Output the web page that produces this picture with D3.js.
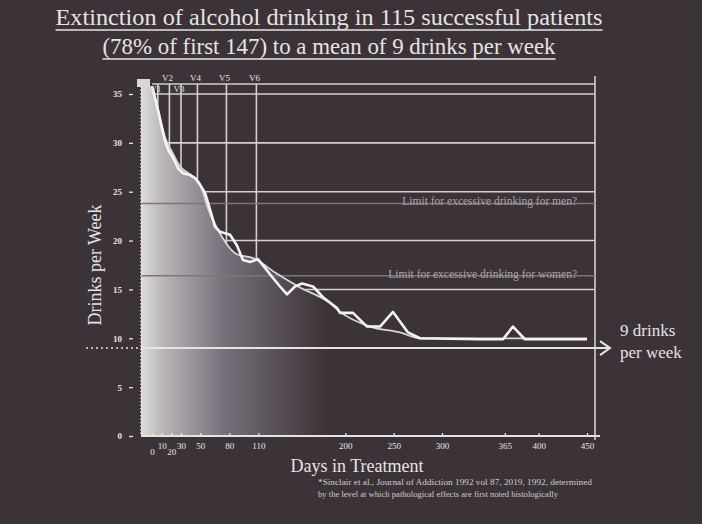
<!DOCTYPE html>
<html><head><meta charset="utf-8">
<script src="https://cdn.jsdelivr.net/npm/d3@7"></script>
<style>html,body{margin:0;padding:0;background:#3c3338;}svg{display:block;}</style>
</head><body>
<script>
// ---- data ----
const titleLines = ["Extinction of alcohol drinking in 115 successful patients","(78% of first 147) to a mean of 9 drinks per week"];
const obsDays   = [0,3.1,6.2,10.3,13.4,16.6,21.7,26.9,32.1,39.3,44.5,49.7,54.8,57.9,65.2,70.3,80.7,87.9,94.1,101.4,109.6,116.9,124.1,132.4,139.7,147.9,155.2,166.6,176.9,191.4,194.5,207.9,222.4,235.9,249.3,264.8,277.2,339.3,363.1,373.4,385.8,450];
const obsDrinks = [35.8,34.6,33.3,31.5,30.2,29.3,28.5,27.4,26.9,26.7,26.4,25.7,24.9,23.9,21.4,20.9,20.6,19.5,18.0,17.8,18.1,17.2,16.3,15.3,14.5,15.3,15.6,15.3,14.2,13.1,12.6,12.6,11.2,11.2,12.7,10.6,10.0,9.9,9.9,11.2,9.9,9.9];
const fitDays   = [0,6.2,13.4,21.7,28.9,36.2,49.7,57.9,67.2,87.9,104.5,129.3,153.1,184.1,194.5,225.5,256.6,277.2,450];
const fitDrinks = [35.8,33.5,30.6,28.9,27.6,27.0,25.8,23.3,21.3,18.6,18.2,16.6,15.2,13.6,12.7,11.2,10.6,10.0,10.0];
const visitNames = ["V1","V2","V3","V4","V5","V6"];
const visitDays  = [6,18,30,47,77,108];
const xTicks = [0,10,20,30,50,80,110,200,250,300,365,400,450];
const yTicks = [0,5,10,15,20,25,30,35];
const gridValues = [35,30,25,20,15];
const limitValues = [23.8,16.4];
const limitLabels = ["Limit for excessive drinking for men?","Limit for excessive drinking for women?"];
const targetValue = 9;
const footnote = ["*Sinclair et al., Journal of Addiction 1992 vol 87, 2019, 1992, determined","by the level at which pathological effects are first noted histologically"];

// ---- layout ----
const W=702,H=524,bg="#3c3338",fg="#e6e3e4",grid="#d2d0d1";
const serif="'Liberation Serif','Times New Roman',serif";
const svg=d3.select("body").append("svg").attr("width",W).attr("height",H);
svg.append("rect").attr("width",W).attr("height",H).attr("fill",bg);

const x=d3.scaleLinear().domain([0,450]).range([152,587]);
const y=d3.scaleLinear().domain([0,35]).range([436,94]);
const axisX=141, rightX=595, topY=84;

const defs=svg.append("defs");
const g=defs.append("linearGradient").attr("id","fade").attr("gradientUnits","userSpaceOnUse")
  .attr("x1",axisX).attr("x2",325).attr("y1",0).attr("y2",0);
[[0,"#dedcdd"],[0.12,"#b8b5b7"],[0.45,"#77707a"],[1,bg]].forEach(s=>g.append("stop").attr("offset",s[0]).attr("stop-color",s[1]));

// title
const titleW=[547,453];
titleLines.forEach((t,i)=>{
  const tx=svg.append("text").attr("x",329).attr("y",25+i*29).attr("text-anchor","middle")
    .attr("font-family",serif).attr("font-size",23).attr("fill",fg)
    .attr("textLength",titleW[i]).attr("lengthAdjust","spacingAndGlyphs").text(t);
  svg.append("line").attr("x1",329-titleW[i]/2).attr("x2",329+titleW[i]/2).attr("y1",30+i*29).attr("y2",30+i*29)
    .attr("stroke",fg).attr("stroke-width",1.3);
});

// grid
const gg=svg.append("g").attr("stroke",grid).attr("stroke-width",1.6);
gg.append("line").attr("x1",x(0)).attr("x2",rightX).attr("y1",topY).attr("y2",topY);
gridValues.forEach(v=>gg.append("line").attr("x1",x(0)).attr("x2",rightX).attr("y1",y(v)).attr("y2",y(v)));
visitDays.forEach(d=>gg.append("line").attr("x1",x(d)).attr("x2",x(d)).attr("y1",topY).attr("y2",y(0)));
gg.append("line").attr("x1",rightX).attr("x2",rightX).attr("y1",topY-8).attr("y2",y(0)+4);

// area under fitted curve
const fit=fitDays.map((d,i)=>({d,v:fitDrinks[i]}));
const obs=obsDays.map((d,i)=>({d,v:obsDrinks[i]}));
const area=d3.area().x(p=>p.d===null?axisX:x(p.d)).y0(y(0)).y1(p=>y(p.v)).curve(d3.curveMonotoneX);
svg.append("path").datum([{d:null,v:fit[0].v}].concat(fit)).attr("d",area).attr("fill","url(#fade)");

// limit lines
limitValues.forEach((v,i)=>{
  svg.append("line").attr("x1",axisX).attr("x2",rightX).attr("y1",y(v)).attr("y2",y(v))
    .attr("stroke","#7c767a").attr("stroke-width",1.6);
  svg.append("text").attr("x",rightX-18).attr("y",y(v)+2).attr("text-anchor","end")
    .attr("font-family",serif).attr("font-size",11.5).attr("fill","#a9a4a7").text(limitLabels[i]);
});

// target line with arrow
svg.append("line").attr("x1",86).attr("x2",axisX).attr("y1",y(targetValue)).attr("y2",y(targetValue))
  .attr("stroke",fg).attr("stroke-width",1.6).attr("stroke-dasharray","2,3");
svg.append("line").attr("x1",axisX).attr("x2",608).attr("y1",y(targetValue)).attr("y2",y(targetValue))
  .attr("stroke",fg).attr("stroke-width",2);
svg.append("path").attr("d",`M600,${y(targetValue)-7} L610,${y(targetValue)} L600,${y(targetValue)+7}`)
  .attr("fill","none").attr("stroke",fg).attr("stroke-width",2);

// curves
svg.append("path").datum(fit).attr("d",d3.line().x(p=>x(p.d)).y(p=>y(p.v)).curve(d3.curveMonotoneX))
  .attr("fill","none").attr("stroke","#d8d6d7").attr("stroke-width",1.8);
svg.append("path").datum(obs).attr("d",d3.line().x(p=>x(p.d)).y(p=>y(p.v)))
  .attr("fill","none").attr("stroke","#f4f2f3").attr("stroke-width",2.6).attr("stroke-linejoin","round");

// visit labels
visitNames.forEach((n,i)=>{
  const low = (i===0||i===2);
  svg.append("text").attr("x",x(visitDays[i])-2).attr("y",low?topY+8:topY-3).attr("text-anchor","middle")
    .attr("font-family",serif).attr("font-size",9).attr("fill",fg).text(n);
});
svg.append("rect").attr("x",137).attr("y",79).attr("width",13).attr("height",8).attr("fill","#d8d6d7");

// y axis
svg.append("line").attr("x1",axisX).attr("x2",axisX).attr("y1",topY+2).attr("y2",y(0))
  .attr("stroke",fg).attr("stroke-width",1.5).attr("stroke-dasharray","1.5,2");
const ya=svg.append("g").attr("transform",`translate(${axisX-12},0)`)
  .call(d3.axisLeft(y).tickValues(yTicks).tickSize(4).tickPadding(3));
ya.select(".domain").remove();
ya.selectAll("line").attr("stroke",fg).attr("stroke-width",1.3).attr("transform","translate(4,0)");
ya.selectAll("text").attr("font-family",serif).attr("font-size",9).attr("font-weight","bold").attr("fill",fg);
svg.append("text").attr("transform",`translate(101,${y(17.5)}) rotate(-90)`).attr("text-anchor","middle")
  .attr("font-family",serif).attr("font-size",18).attr("fill",fg).text("Drinks per Week");

// x axis
svg.append("line").attr("x1",axisX).attr("x2",600).attr("y1",y(0)).attr("y2",y(0)).attr("stroke",fg).attr("stroke-width",1.8);
const xa=svg.append("g").attr("transform",`translate(0,${y(0)})`)
  .call(d3.axisBottom(x).tickValues(xTicks).tickSize(-3).tickPadding(5).tickFormat(d3.format("d")));
xa.select(".domain").remove();
xa.selectAll("line").attr("stroke",fg).attr("stroke-width",1.3);
xa.selectAll("text").attr("font-family",serif).attr("font-size",9).attr("fill",fg)
  .attr("dy",d=>(d===0||d===20)?"1.6em":"0.9em");
svg.append("text").attr("x",357).attr("y",472).attr("text-anchor","middle")
  .attr("font-family",serif).attr("font-size",18).attr("fill",fg).text("Days in Treatment");

// right annotation
["9 drinks","per week"].forEach((t,i)=>svg.append("text").attr("x",620).attr("y",336+i*22)
  .attr("font-family",serif).attr("font-size",17).attr("fill",fg).text(t));

// footnote
footnote.forEach((t,i)=>svg.append("text").attr("x",318).attr("y",485+i*12)
  .attr("font-family",serif).attr("font-size",7.5).attr("fill","#cfcccd")
  .attr("textLength",i===0?274:240).attr("lengthAdjust","spacingAndGlyphs").text(t));
</script>
</body></html>
